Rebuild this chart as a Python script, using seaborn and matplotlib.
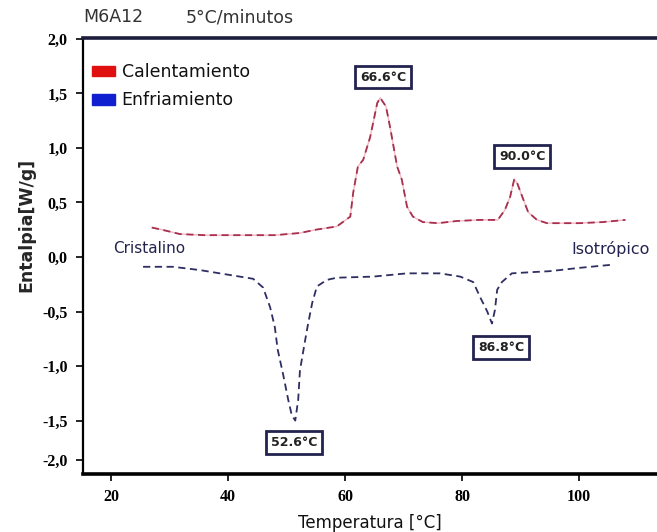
import matplotlib
matplotlib.use("Agg")
import matplotlib.pyplot as plt
import seaborn as sns
import pandas as pd
from matplotlib.patches import Patch

# ---- data ----
heat_T = [27.0, 29.5, 31.8, 36.0, 42.0, 48.0, 52.3, 55.0, 58.6, 60.9, 61.4, 62.2, 63.1,
          64.3, 65.5, 66.0, 67.0, 67.7, 68.9, 69.7, 70.6, 71.6, 73.3, 75.9, 79.1, 83.0,
          86.1, 87.3, 88.2, 88.9, 89.4, 90.3, 91.3, 92.8, 94.5, 100.0, 104.0, 107.9]
heat_H = [0.27, 0.24, 0.21, 0.20, 0.20, 0.20, 0.22, 0.25, 0.28, 0.37, 0.59, 0.83, 0.89,
          1.10, 1.41, 1.46, 1.38, 1.19, 0.83, 0.71, 0.46, 0.37, 0.32, 0.31, 0.33, 0.34,
          0.34, 0.43, 0.55, 0.71, 0.68, 0.55, 0.41, 0.34, 0.31, 0.31, 0.32, 0.34]

cool_T = [25.5, 30.6, 35.2, 38.6, 40.9, 44.3, 46.0, 47.2, 48.0, 48.5, 49.4, 50.3, 50.9,
          51.5, 52.0, 52.3, 53.2, 53.7, 54.4, 55.2, 56.9, 58.6, 64.8, 70.6, 76.2, 79.7,
          81.9, 83.1, 84.3, 85.1, 85.6, 86.0, 86.8, 88.5, 91.6, 95.0, 100.0, 105.8]
cool_H = [-0.09, -0.09, -0.12, -0.15, -0.17, -0.20, -0.28, -0.46, -0.64, -0.85, -1.07,
          -1.31, -1.45, -1.50, -1.31, -1.04, -0.76, -0.61, -0.42, -0.27, -0.21, -0.19,
          -0.18, -0.15, -0.15, -0.18, -0.23, -0.37, -0.50, -0.61, -0.49, -0.30, -0.23,
          -0.15, -0.14, -0.13, -0.10, -0.07]

peak_labels = ["66.6°C", "90.0°C", "86.8°C", "52.6°C"]
peak_label_T = [66.5, 90.3, 86.7, 51.3]
peak_label_H = [1.65, 0.92, -0.83, -1.70]

ytick_vals = [2.0, 1.5, 1.0, 0.5, 0.0, -0.5, -1.0, -1.5, -1.86]
ytick_labels = ["2,0", "1,5", "1,0", "0,5", "0,0", "-0,5", "-1,0", "-1,5", "-2,0"]
xtick_vals = [20, 40, 60, 80, 100]
xtick_labels = ["20", "40", "60", "80", "100"]

heat = pd.DataFrame({"T": heat_T, "H": heat_H})
cool = pd.DataFrame({"T": cool_T, "H": cool_H})

sns.set_style("white")
plt.rcParams["font.family"] = ["DejaVu Sans"]

fig = plt.figure(figsize=(6.57, 5.32), dpi=100)
ax = fig.add_axes([0.126, 0.109, 0.874, 0.820])

navy = "#23234f"
# faint continuous underlay for the heating curve
sns.lineplot(data=heat, x="T", y="H", ax=ax, color="#f2b8c4", lw=1.0, sort=False)
sns.lineplot(data=heat, x="T", y="H", ax=ax, color="#a8304e", lw=1.3,
             linestyle=(0, (4, 2.5)), sort=False)
sns.lineplot(data=cool, x="T", y="H", ax=ax, color="#2e2e62", lw=1.3,
             linestyle=(0, (4, 2.5)), sort=False)

ax.set_xlim(15.2, 113.3)
ax.set_ylim(-1.99, 2.01)

ax.set_xticks(xtick_vals)
ax.set_xticklabels(xtick_labels, family="Liberation Serif", fontweight="bold", fontsize=11.5)
ax.set_yticks(ytick_vals)
ax.set_yticklabels(ytick_labels, family="Liberation Serif", fontweight="bold", fontsize=11.5)
ax.tick_params(axis="both", direction="out", length=5, width=1.2, colors="black", pad=6)
ax.tick_params(axis="both", bottom=True, left=True)

ax.spines["right"].set_visible(False)
ax.spines["top"].set_linewidth(2.6)
ax.spines["top"].set_color("#1c1c3c")
ax.spines["bottom"].set_linewidth(2.6)
ax.spines["bottom"].set_color("black")
ax.spines["left"].set_linewidth(1.6)
ax.spines["left"].set_color("black")

ax.set_xlabel("Temperatura [°C]", fontsize=12, color="#111111", labelpad=6)
ax.set_ylabel("Entalpia[W/g]", fontsize=12.5, fontweight="bold")
ax.yaxis.set_label_coords(-0.083, 0.57)

for lab, tx, ty in zip(peak_labels, peak_label_T, peak_label_H):
    ax.text(tx, ty, lab, ha="center", va="center", fontsize=9, fontweight="bold",
            color="#222222",
            bbox=dict(boxstyle="square,pad=0.38", fc="white", ec=navy, lw=2))

ax.text(26.6, 0.08, "Cristalino", ha="center", va="center", fontsize=11, color=navy)
ax.text(105.4, 0.07, "Isotrópico", ha="center", va="center", fontsize=11.5, color=navy)

handles = [Patch(facecolor="#e01010", edgecolor="#e01010", label="Calentamiento"),
           Patch(facecolor="#1020d0", edgecolor="#1020d0", label="Enfriamiento")]
leg = ax.legend(handles=handles, loc="upper left", bbox_to_anchor=(-0.005, 0.97),
                frameon=False, fontsize=12.5, handlelength=1.3, handleheight=0.55,
                handletextpad=0.4, labelspacing=0.6, borderaxespad=0.3)
for t in leg.get_texts():
    t.set_color("#111111")

fig.text(0.127, 0.968, "M6A12", fontsize=12.5, color="#333333", va="center")
fig.text(0.282, 0.968, "5°C/minutos", fontsize=12.5, color="#333333", va="center")

fig.savefig("out.png", dpi=100, facecolor="white")
